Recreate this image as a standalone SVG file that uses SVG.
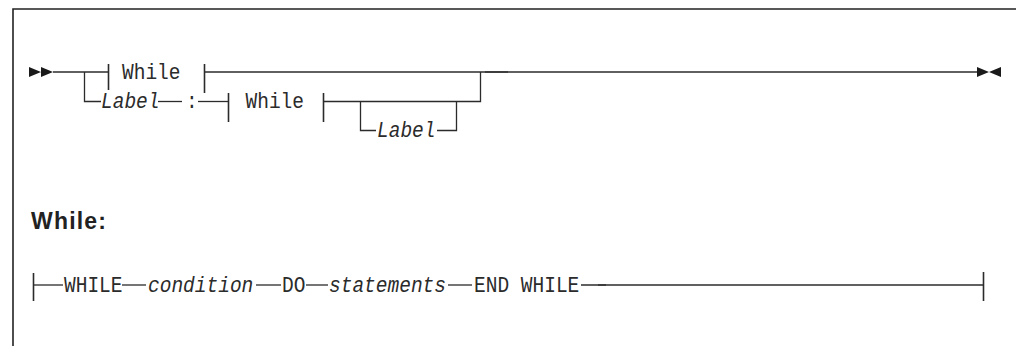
<svg xmlns="http://www.w3.org/2000/svg" width="1016" height="346" viewBox="0 0 1016 346">
<style>
.ln{stroke:#2b2b2b;stroke-width:1.3;fill:none}
.bar{stroke:#2b2b2b;stroke-width:1.6;fill:none}
.frame{stroke:#222;stroke-width:1.6;fill:none}
.t{font-family:"Liberation Mono","DejaVu Sans Mono",monospace;font-size:22.5px;fill:#2b2b2b}
.i{font-style:italic}
.h{font-family:"Liberation Sans",Arial,sans-serif;font-weight:bold;font-size:23px;fill:#222}
.arr{fill:#1a1a1a}
</style>
<rect width="1016" height="346" fill="#fff"/>
<path class="frame" d="M13,346 V9 H1016"/>
<g id="start"><path class="arr" d="M29,67 L41,72 L29,77 Z M41,67 L53,72 L41,77 Z"/></g>
<g id="end"><path class="arr" d="M977,67 L989,72 L977,77 Z M1001,67 L989,72 L1001,77 Z"/></g>
<g id="while-ref-1"><path class="bar" d="M108.5,64 V90 M204.5,64 V93"/><text class="t" x="122" y="79" textLength="58.5" lengthAdjust="spacingAndGlyphs">While</text></g>
<g id="label-1"><text class="t i" x="101" y="108" textLength="58.5" lengthAdjust="spacingAndGlyphs">Label</text></g>
<g id="colon"><text class="t" x="186" y="108" textLength="11.7" lengthAdjust="spacingAndGlyphs">:</text></g>
<g id="while-ref-2"><path class="bar" d="M228.5,93 V122 M323.5,93 V122"/><text class="t" x="245.5" y="108" textLength="58.5" lengthAdjust="spacingAndGlyphs">While</text></g>
<g id="label-2"><text class="t i" x="377" y="137" textLength="58.5" lengthAdjust="spacingAndGlyphs">Label</text></g>
<g id="heading"><text class="h" x="31" y="229" textLength="75">While:</text></g>
<g id="frag-start"><path class="bar" d="M33.5,273 V301"/></g>
<g id="kw-while"><text class="t" x="64" y="292" textLength="58.5" lengthAdjust="spacingAndGlyphs">WHILE</text></g>
<g id="condition"><text class="t i" x="148" y="292" textLength="105.3" lengthAdjust="spacingAndGlyphs">condition</text></g>
<g id="kw-do"><text class="t" x="282" y="292" textLength="23.4" lengthAdjust="spacingAndGlyphs">DO</text></g>
<g id="statements"><text class="t i" x="329" y="292" textLength="117" lengthAdjust="spacingAndGlyphs">statements</text></g>
<g id="kw-endwhile"><text class="t" x="474" y="292" textLength="105.3" lengthAdjust="spacingAndGlyphs">END WHILE</text></g>
<g id="frag-end"><path class="bar" d="M983.5,272 V301"/></g>
<g id="connectors">
<path class="ln" d="M53,72 H108.5"/>
<path class="ln" d="M84.5,72 V101.5 H101"/>
<path class="ln" d="M158,101.5 H182"/>
<path class="ln" d="M198,101.5 H228.5"/>
<path class="ln" d="M204.5,72 H977"/>
<path class="ln" d="M323.5,101.5 H480.5 V72"/>
<path class="ln" d="M360.5,101.5 V130.5 H376"/>
<path class="ln" d="M437,130.5 H456.5 V101.5"/>
<path class="ln" d="M485,72 H508" stroke-width="1.8"/>
<path class="ln" d="M33.5,285 H63"/>
<path class="ln" d="M122,285 H146"/>
<path class="ln" d="M256,285 H281"/>
<path class="ln" d="M306,285 H328"/>
<path class="ln" d="M448,285 H472"/>
<path class="ln" d="M581,285 H983.5"/>
<path class="ln" d="M598,285 H606" stroke-width="1.8"/>
</g>
</svg>
